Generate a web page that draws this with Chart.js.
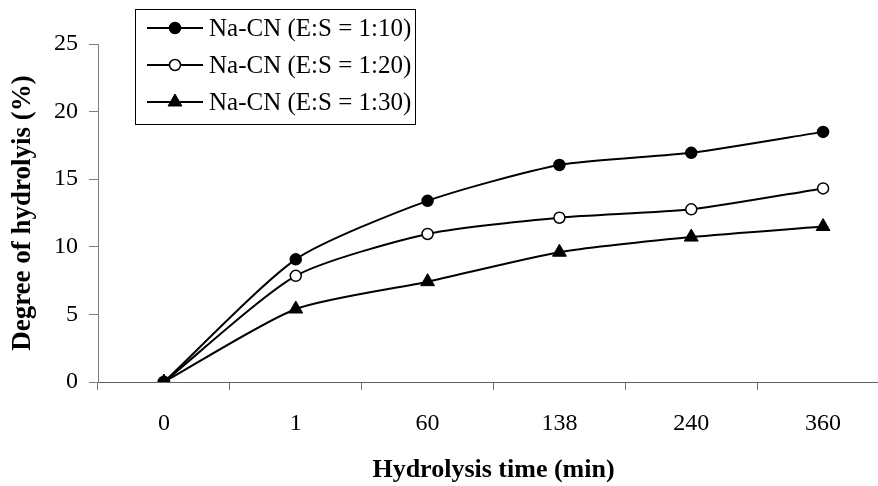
<!DOCTYPE html>
<html>
<head>
<meta charset="utf-8">
<script src="https://cdn.jsdelivr.net/npm/chart.js@4.4.1/dist/chart.umd.min.js"></script>
<style>
  html, body { margin: 0; padding: 0; background: #fff; overflow: hidden; }
  #wrap { width: 878px; height: 486px; overflow: hidden; }
  canvas { display: block; }
</style>
</head>
<body>
<div id="wrap"><canvas id="c" width="898" height="486" style="width:898px;height:486px"></canvas></div>
<script>
// Hydrolysis time points (min) – spaced evenly as categories
const timeLabels = ['0', '1', '60', '138', '240', '360'];

// Degree of hydrolysis (%) for each enzyme:substrate ratio
const es10 = [0, 9.07, 13.4, 16.05, 16.95, 18.5];
const es20 = [0, 7.85, 10.95, 12.15, 12.77, 14.32];
const es30 = [0, 5.4, 7.42, 9.6, 10.72, 11.5];

const seriesNames = ['Na-CN (E:S = 1:10)', 'Na-CN (E:S = 1:20)', 'Na-CN (E:S = 1:30)'];

const SERIF = '"Liberation Serif", "Times New Roman", serif';

// Legend drawn as a framed box in the upper-left of the plot
const boxLegend = {
  id: 'boxLegend',
  afterDraw(chart) {
    const ctx = chart.ctx;
    const x0 = 135.5, y0 = 9.5, w = 280, h = 115;
    ctx.save();
    ctx.fillStyle = '#fff';
    ctx.fillRect(x0, y0, w, h);
    ctx.strokeStyle = '#000';
    ctx.lineWidth = 1;
    ctx.strokeRect(x0, y0, w, h);
    const rows = [28, 65, 102];
    chart.data.datasets.forEach((ds, i) => {
      const y = rows[i];
      ctx.strokeStyle = ds.borderColor;
      ctx.lineWidth = ds.borderWidth;
      ctx.beginPath();
      ctx.moveTo(147, y);
      ctx.lineTo(203, y);
      ctx.stroke();
      const mx = 175;
      ctx.fillStyle = ds.pointBackgroundColor;
      ctx.strokeStyle = ds.pointBorderColor;
      ctx.lineWidth = ds.pointBorderWidth;
      ctx.beginPath();
      if (ds.pointStyle === 'triangle') {
        const r = ds.pointRadius;
        ctx.moveTo(mx, y - r);
        ctx.lineTo(mx + r * 0.866, y + r * 0.5);
        ctx.lineTo(mx - r * 0.866, y + r * 0.5);
        ctx.closePath();
      } else {
        ctx.arc(mx, y, ds.pointRadius, 0, Math.PI * 2);
      }
      ctx.fill();
      ctx.stroke();
      ctx.fillStyle = '#000';
      ctx.font = '25px ' + SERIF;
      ctx.textBaseline = 'middle';
      ctx.textAlign = 'left';
      ctx.fillText(ds.label, 209, y + 1);
    });
    ctx.restore();
  }
};

new Chart(document.getElementById('c'), {
  type: 'line',
  data: {
    labels: timeLabels,
    datasets: [
      {
        label: seriesNames[0], data: es10,
        borderColor: '#000', borderWidth: 2,
        pointStyle: 'circle', pointRadius: 5.5,
        pointBackgroundColor: '#000', pointBorderColor: '#000', pointBorderWidth: 1.5,
        tension: 0.22
      },
      {
        label: seriesNames[1], data: es20,
        borderColor: '#000', borderWidth: 2,
        pointStyle: 'circle', pointRadius: 5.5,
        pointBackgroundColor: '#fff', pointBorderColor: '#000', pointBorderWidth: 1.5,
        tension: 0.22
      },
      {
        label: seriesNames[2], data: es30,
        borderColor: '#000', borderWidth: 2,
        pointStyle: 'triangle', pointRadius: 8,
        pointBackgroundColor: '#000', pointBorderColor: '#000', pointBorderWidth: 1,
        tension: 0.22
      }
    ]
  },
  options: {
    responsive: false,
    animation: false,
    devicePixelRatio: 1,
    layout: { padding: { top: 44, left: 0, right: 1, bottom: 0 } },
    plugins: {
      legend: { display: false },
      tooltip: { enabled: false }
    },
    scales: {
      x: {
        type: 'category',
        offset: true,
        afterFit(scale) { scale.height = 104; scale.paddingLeft = 0; scale.paddingRight = 0; },
        grid: {
          display: true, offset: true, drawOnChartArea: false,
          tickLength: 8, color: '#707070', tickColor: '#707070'
        },
        border: { display: true, color: '#606060', width: 1 },
        ticks: {
          color: '#000', padding: 19, maxRotation: 0,
          font: { family: SERIF, size: 24 }
        },
        title: {
          display: true, text: 'Hydrolysis time (min)', color: '#000',
          font: { family: SERIF, size: 26, weight: 'bold' },
          padding: { top: 0, bottom: 0 }
        }
      },
      y: {
        min: 0, max: 25,
        afterFit(scale) { scale.width = 98; },
        grid: {
          display: true, drawOnChartArea: false,
          tickLength: 9, color: '#808080', tickColor: '#808080'
        },
        border: { display: true, color: '#808080', width: 1 },
        ticks: {
          stepSize: 5, color: '#000', padding: 11,
          font: { family: SERIF, size: 24 }
        },
        title: {
          display: true, text: 'Degree of hydrolyis (%)', color: '#000',
          font: { family: SERIF, size: 27, weight: 'bold' },
          padding: { top: 7, bottom: 0 }
        }
      }
    }
  },
  plugins: [boxLegend]
});
</script>
</body>
</html>
